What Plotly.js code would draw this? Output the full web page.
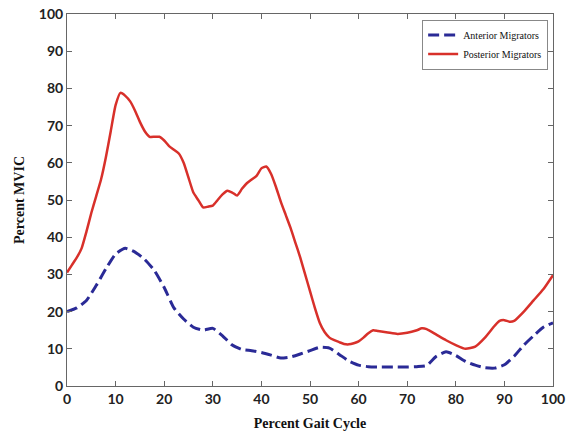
<!DOCTYPE html>
<html><head><meta charset="utf-8">
<script src="https://cdn.plot.ly/plotly-3.0.1.min.js"></script>
<style>html,body{margin:0;padding:0;background:#fff}#c{width:570px;height:434px}</style>
</head><body><div id="c"></div>
<script>
const antX = [0,2,4,6,8,10,12,14,16,18,20,22,24,26,28,30,32,34,36,38,40,42,44,46,48,50,52,54,56,58,60,62,64,66,68,70,72,74,76,78,80,82,84,86,88,90,92,94,96,98,100];
const antY = [20,21,23,27,31.5,35.5,37,36,34,31,26.5,21,18,15.8,15,15.5,13.5,11,9.8,9.5,9,8.3,7.5,7.8,8.6,9.5,10.4,10.2,8.5,6.7,5.6,5.2,5.1,5.1,5.1,5.1,5.2,5.5,8,9.2,8.2,6.6,5.6,4.9,4.8,5.7,8,11,13.5,15.8,17];
const postX = [0,1,2,3,4,5,6,7,8,9,10,11,12,13,14,15,16,17,18,19,20,21,22,23,24,25,26,27,28,29,30,31,32,33,34,35,36,37,38,39,40,41,42,43,44,45,46,47,48,49,50,51,52,53,54,55,56,57,58,59,60,61,62,63,64,66,68,70,72,73,74,76,78,80,82,84,86,88,89,90,91,92,94,96,98,100];
const postY = [30.5,32.5,34.5,37,41.5,46.5,51,55.5,61.5,68.5,75.5,78.8,78,76.5,74,71,68.5,67,67,67,66,64.5,63.5,62.5,60,56,52,50,48,48.2,48.5,50,51.5,52.5,52,51.2,53,54.5,55.5,56.5,58.5,59,57,53.5,49.5,46,42.5,38.5,34.5,30,25.5,21,17,14.5,13,12.3,11.8,11.3,11.2,11.5,12,13,14.2,15,14.8,14.4,14,14.3,15,15.5,15.3,13.8,12.3,11,10,10.6,13,16.2,17.5,17.7,17.3,17.5,20,23,26,29.8];
const xTicks = [0,10,20,30,40,50,60,70,80,90,100];
const yTicks = [0,10,20,30,40,50,60,70,80,90,100];

const traces = [
  {x: antX, y: antY, type:'scatter', mode:'lines', name:'Anterior Migrators',
   line:{color:'#2a2a96', width:3, dash:'11px,5px', shape:'spline', smoothing:0.5}},
  {x: postX, y: postY, type:'scatter', mode:'lines', name:'Posterior Migrators',
   line:{color:'#d8302a', width:2.5, shape:'spline', smoothing:0.5}}
];
const axisCommon = {
  showgrid:false, zeroline:false, showline:true, mirror:'ticks', linecolor:'#666', linewidth:1,
  ticks:'inside', ticklen:5, tickcolor:'#666',
  tickfont:{family:'Lato, "DejaVu Sans", sans-serif', size:14, color:'#222', weight:'bold'}
};
const titleFont = {family:'"Liberation Serif", serif', size:14, color:'#111', weight:'bold'};
const layout = {
  width:570, height:434,
  margin:{l:67, r:17, t:14, b:48},
  paper_bgcolor:'#fff', plot_bgcolor:'#fff',
  showlegend:true,
  legend:{x:0.99, y:0.985, xanchor:'right', yanchor:'top', bgcolor:'#fff', bordercolor:'#888', borderwidth:1,
    font:{family:'"Liberation Serif", serif', size:10, color:'#111'}, tracegroupgap:0, itemwidth:30},
  xaxis: Object.assign({}, axisCommon, {range:[0,100], tickvals:xTicks, ticktext:xTicks.map(String),
    title:{text:'Percent Gait Cycle', font:titleFont, standoff:12}}),
  yaxis: Object.assign({}, axisCommon, {range:[0,100], tickvals:yTicks, ticktext:yTicks.map(String),
    title:{text:'Percent MVIC', font:titleFont, standoff:10}})
};
Plotly.newPlot('c', traces, layout, {displayModeBar:false, staticPlot:true});
</script></body></html>
